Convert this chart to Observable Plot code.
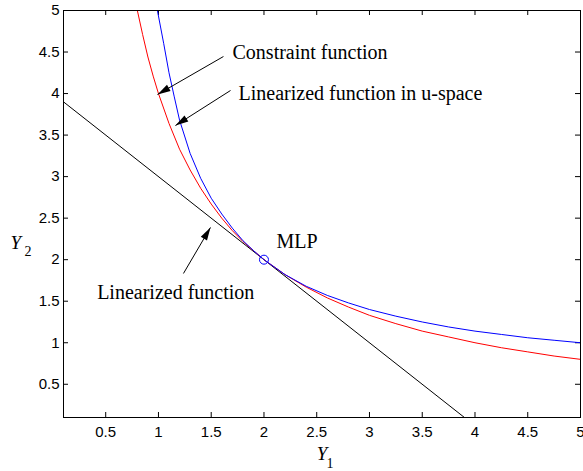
<!DOCTYPE html>
<html><head><meta charset="utf-8">
<script src="https://cdn.jsdelivr.net/npm/d3@7"></script>
<script src="https://cdn.jsdelivr.net/npm/@observablehq/plot@0.6"></script>
<style>body{margin:0;background:#fff} #chart svg{display:block}</style>
</head><body><div id="chart"></div>
<script>
// ---- data ----
const xTicks = [0.5, 1, 1.5, 2, 2.5, 3, 3.5, 4, 4.5, 5];
const yTicks = [0.5, 1, 1.5, 2, 2.5, 3, 3.5, 4, 4.5, 5];

// Constraint function (red)
const consX = [0.8, 0.85, 0.9, 0.95, 1.0, 1.1, 1.2, 1.3, 1.4, 1.5, 1.6, 1.7, 1.8, 1.9, 2.0, 2.2, 2.4, 2.6, 2.8, 3.0, 3.25, 3.5, 3.75, 4.0, 4.25, 4.5, 4.75, 5.0];
const consY = [5.0, 4.71, 4.44, 4.21, 4.0, 3.64, 3.33, 3.08, 2.86, 2.67, 2.5, 2.35, 2.22, 2.11, 2.0, 1.82, 1.67, 1.54, 1.43, 1.33, 1.23, 1.14, 1.07, 1.0, 0.94, 0.89, 0.84, 0.80];

// Linearized function in u-space (blue)
const uX = [0.99, 1.05, 1.1, 1.15, 1.2, 1.3, 1.4, 1.5, 1.6, 1.7, 1.8, 1.9, 2.0, 2.2, 2.4, 2.6, 2.8, 3.0, 3.25, 3.5, 3.75, 4.0, 4.25, 4.5, 4.75, 5.0];
const uY = [5.0, 4.6, 4.25, 3.96, 3.68, 3.28, 2.98, 2.74, 2.55, 2.38, 2.23, 2.11, 2.0, 1.82, 1.68, 1.57, 1.48, 1.40, 1.32, 1.25, 1.19, 1.14, 1.10, 1.06, 1.03, 1.0];

// Linearized function (black)
const linX = [0.1, 2.0, 3.9];
const linY = [3.9, 2.0, 0.1];

// Most likely point
const mlpX = [2];
const mlpY = [2];

// Annotation labels
const labelText = ["Constraint function", "Linearized function in u-space", "Linearized function", "MLP"];
const labelX = [1.702, 1.759, 0.419, 2.119];
const labelY = [4.499, 3.994, 1.598, 2.212];

// Annotation arrows (start -> tip)
const arrowX1 = [1.616, 1.683, 1.237];
const arrowY1 = [4.446, 4.037, 1.834];
const arrowX2 = [0.991, 1.161, 1.493];
const arrowY2 = [3.989, 3.615, 2.388];

// ---- layout ----
const W = 583, H = 471, mL = 63, mR = 3, mT = 10, mB = 54;
const xDom = [0.1, 5], yDom = [0.1, 5];
const sx = Plot.scale({x: {domain: xDom, range: [mL, W - mR]}});
const sy = Plot.scale({y: {domain: yDom, range: [H - mB, mT]}});

const pts = (xs, ys) => xs.map((x, i) => ({x, y: ys[i]}));
const labels = labelText.map((t, i) => ({t, x: labelX[i], y: labelY[i]}));
const arrows = arrowX1.map((x1, i) => {
  const px1 = sx.apply(x1), py1 = sy.apply(arrowY1[i]);
  const px2 = sx.apply(arrowX2[i]), py2 = sy.apply(arrowY2[i]);
  const ang = Math.atan2(py2 - py1, px2 - px1) * 180 / Math.PI;
  return {x1, y1: arrowY1[i], x2: arrowX2[i], y2: arrowY2[i], rot: ang + 90};
});

const headSymbol = {draw(ctx) { ctx.moveTo(0, 0); ctx.lineTo(-3.6, 13); ctx.lineTo(3.6, 13); ctx.closePath(); }};

const fw = W - mL - mR, fh = H - mT - mB, tl = 5;
const serif = "'Liberation Serif', 'Times New Roman', serif";
const fmt = d => String(d);

const chart = Plot.plot({
  width: W, height: H,
  marginLeft: mL, marginRight: mR, marginTop: mT, marginBottom: mB,
  x: {domain: xDom},
  y: {domain: yDom},
  style: {fontFamily: "'Liberation Sans', Arial, sans-serif", fontSize: "15px", background: "#fff", color: "#000", overflow: "visible"},
  marks: [
    Plot.axisX(xTicks, {tickSize: 0, tickPadding: 9, tickFormat: fmt, label: null}),
    Plot.axisY(yTicks, {tickSize: 0, tickPadding: 4, tickFormat: fmt, label: null}),
    Plot.tickX(xTicks, {x: d => d, insetTop: fh - tl, stroke: "#000"}),
    Plot.tickX(xTicks, {x: d => d, insetBottom: fh - tl, stroke: "#000"}),
    Plot.tickY(yTicks, {y: d => d, insetRight: fw - tl, stroke: "#000"}),
    Plot.tickY(yTicks, {y: d => d, insetLeft: fw - tl, stroke: "#000"}),
    Plot.line(pts(linX, linY), {x: "x", y: "y", stroke: "#000", strokeWidth: 1, clip: true}),
    Plot.line(pts(consX, consY), {x: "x", y: "y", stroke: "#ff0000", strokeWidth: 1, clip: true}),
    Plot.line(pts(uX, uY), {x: "x", y: "y", stroke: "#0000ff", strokeWidth: 1, clip: true}),
    Plot.dot(pts(mlpX, mlpY), {x: "x", y: "y", r: 4.5, stroke: "#0000ff", fill: "none", strokeWidth: 1}),
    Plot.link(arrows, {x1: "x1", y1: "y1", x2: "x2", y2: "y2", stroke: "#000", strokeWidth: 1}),
    Plot.dot(arrows, {x: "x2", y: "y2", rotate: "rot", symbol: headSymbol, fill: "#000", stroke: "none"}),
    Plot.text(labels, {x: "x", y: "y", text: "t", textAnchor: "start", lineAnchor: "middle", fontSize: 20, fontFamily: serif, fill: "#000"}),
    Plot.frame({stroke: "#000", strokeWidth: 1}),
    // axis titles
    Plot.text(["Y"], {frameAnchor: "bottom", x: 2.5, dy: 42, textAnchor: "start", lineAnchor: "bottom", fontStyle: "italic", fontSize: 19, fontFamily: serif, fill: "#000"}),
    Plot.text(["1"], {frameAnchor: "bottom", x: 2.593, dy: 50, textAnchor: "start", lineAnchor: "bottom", fontSize: 14, fontFamily: serif, fill: "#000"}),
    Plot.text(["Y"], {frameAnchor: "left", y: 2.123, dx: -53, textAnchor: "start", lineAnchor: "bottom", fontStyle: "italic", fontSize: 19, fontFamily: serif, fill: "#000"}),
    Plot.text(["2"], {frameAnchor: "left", y: 2.123, dx: -39, dy: 7, textAnchor: "start", lineAnchor: "bottom", fontSize: 14, fontFamily: serif, fill: "#000"})
  ]
});
document.getElementById("chart").appendChild(chart);
</script></body></html>
